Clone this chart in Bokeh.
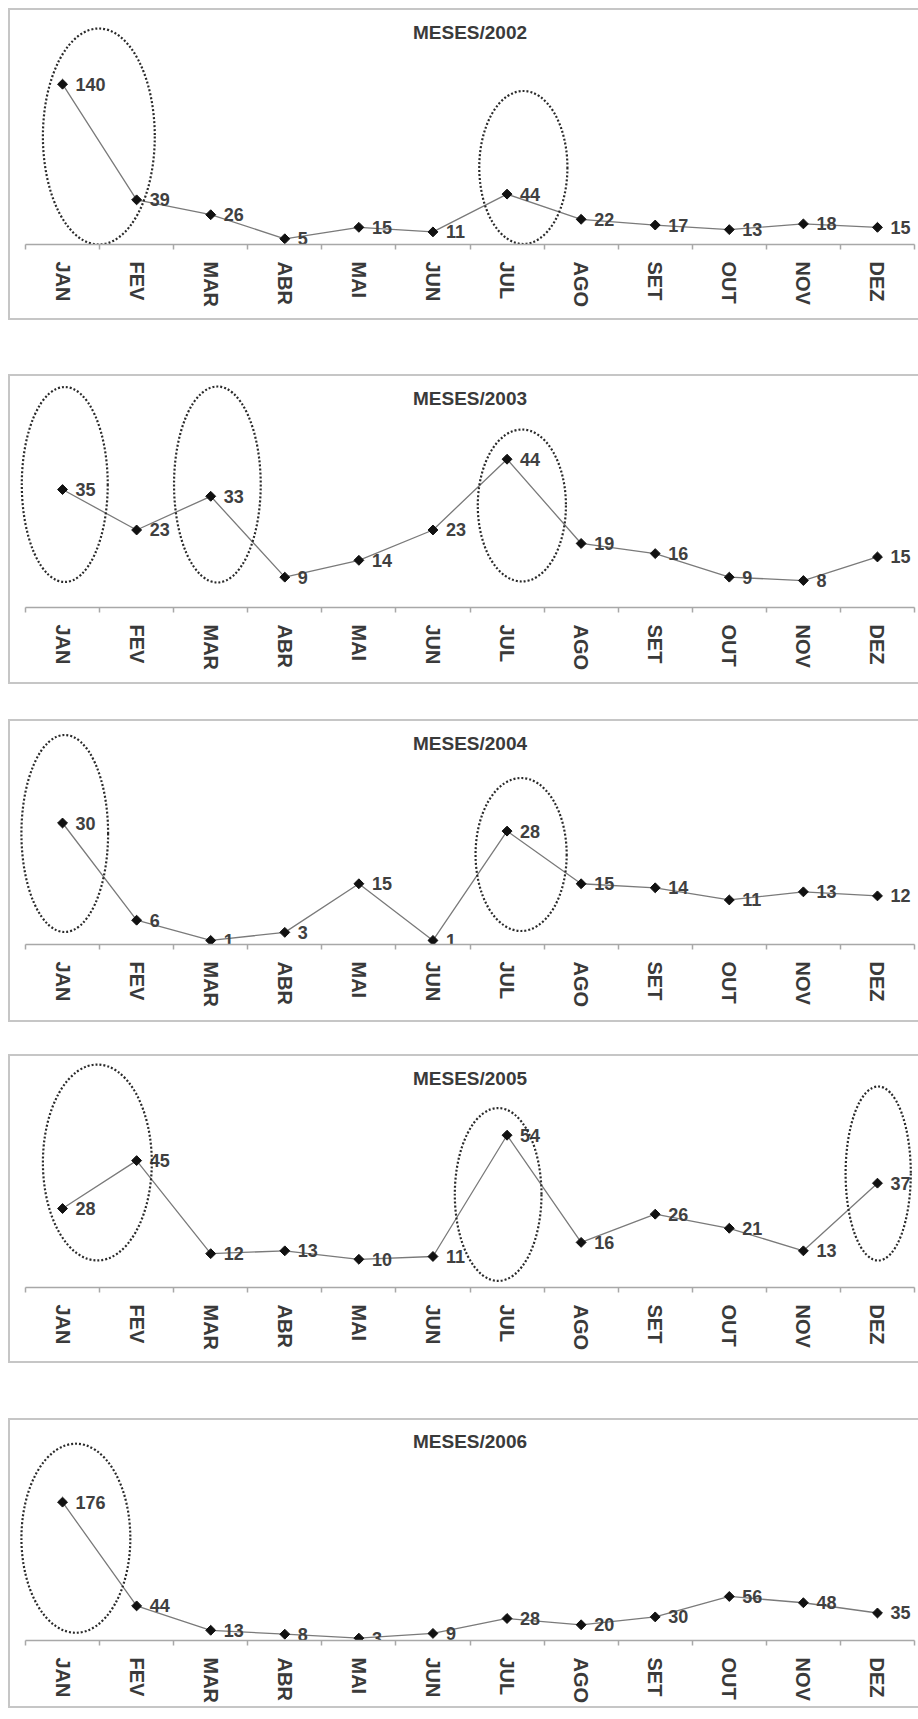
from bokeh.plotting import figure
from bokeh.models import Range1d, LinearAxis, FixedTicker, ColumnDataSource
from bokeh.layouts import column
from bokeh.embed import file_html
from bokeh.resources import INLINE
from bokeh.core.properties import value

# ---------------- data ----------------
MONTHS = ["JAN", "FEV", "MAR", "ABR", "MAI", "JUN", "JUL", "AGO", "SET", "OUT", "NOV", "DEZ"]
YEARS = ["2002", "2003", "2004", "2005", "2006"]

V2002 = [140, 39, 26, 5, 15, 11, 44, 22, 17, 13, 18, 15]
V2003 = [35, 23, 33, 9, 14, 23, 44, 19, 16, 9, 8, 15]
V2004 = [30, 6, 1, 3, 15, 1, 28, 15, 14, 11, 13, 12]
V2005 = [28, 45, 12, 13, 10, 11, 54, 16, 26, 21, 13, 37]
V2006 = [176, 44, 13, 8, 3, 9, 28, 20, 30, 56, 48, 35]

# months circled with a dotted ellipse in each year
HIGHLIGHT_2002 = ["JAN", "JUL"]
HIGHLIGHT_2003 = ["JAN", "MAR", "JUL"]
HIGHLIGHT_2004 = ["JAN", "JUL"]
HIGHLIGHT_2005 = ["FEV", "JUL", "DEZ"]
HIGHLIGHT_2006 = ["JAN"]

SERIES = [V2002, V2003, V2004, V2005, V2006]
HIGHLIGHTS = [HIGHLIGHT_2002, HIGHLIGHT_2003, HIGHLIGHT_2004, HIGHLIGHT_2005, HIGHLIGHT_2006]

# ---------------- layout / style ----------------
FONT_NAME = "Liberation Sans"
FONT = value(FONT_NAME)
BORDER = 2               # panel frame, drawn outside the canvas (box-shadow)
CONTENT_W = 908
PAGE_MARGIN = 8
FRAME_LEFT = 1           # frame reaches left so the ellipses are not cut
AXIS_LEFT = 15           # where the category axis starts inside the canvas
FRAME_RIGHT = 4
TOP_PAD = 2
BC = "#c6c6c6"
PANEL_FRAME = (f"-2px 0 0 0 {BC}, 0 -2px 0 0 {BC}, 0 2px 0 0 {BC}, "
               f"-2px -2px 0 0 {BC}, -2px 2px 0 0 {BC}")

# category slots: month i occupies [i, i+1] on the x scale
N = len(MONTHS)
X_CENTER = [i + 0.5 for i in range(N)]
X_EDGES = list(range(N + 1))
CAT_PX = (CONTENT_W - FRAME_RIGHT - AXIS_LEFT) / N
X_START = -(AXIS_LEFT - FRAME_LEFT) / CAT_PX

# per panel: outer height, gap above, axis position (from outer top), px per unit
PANEL_GEOM = [
    dict(H=312, gap=PAGE_MARGIN, axis=236, s=1.145),
    dict(H=310, gap=54, axis=233, s=3.37),
    dict(H=303, gap=35, axis=225, s=4.05),
    dict(H=309, gap=32, axis=233, s=2.82),
    dict(H=290, gap=55, axis=230, s=0.815),
]

# ellipse shapes (offset from the highlighted month centre in categories,
# width in categories, centre / height in px above the axis)
ELLIPSE_SHAPES = [
    [(0.49, 1.51, 108, 216), (0.22, 1.19, 77, 153)],
    [(0.03, 1.16, 123, 195), (0.09, 1.17, 123, 196), (0.20, 1.19, 102, 152)],
    [(0.03, 1.17, 111, 197), (0.19, 1.23, 90, 153)],
    [(-0.53, 1.47, 125, 196), (-0.12, 1.17, 93, 173), (0.01, 0.88, 114, 174)],
    [(0.18, 1.47, 106, 196)],
]

figs = []
for k, (year, vals, hl, geom, shapes) in enumerate(
        zip(YEARS, SERIES, HIGHLIGHTS, PANEL_GEOM, ELLIPSE_SHAPES)):
    H, A, s = geom["H"], geom["axis"], geom["s"]
    content_h = H - 2 * BORDER
    frame_top = BORDER + TOP_PAD
    y_end = (A - frame_top) / s
    top_margin = geom["gap"] + BORDER + (BORDER if k > 0 else 0)

    p = figure(width=CONTENT_W, height=content_h,
               x_range=Range1d(X_START, N), y_range=Range1d(0, y_end),
               x_axis_location=None, y_axis_location=None,
               toolbar_location=None, output_backend="svg", title=None,
               min_border_left=FRAME_LEFT, min_border_right=FRAME_RIGHT,
               min_border_top=TOP_PAD, min_border_bottom=H - BORDER - A,
               outline_line_color=None, background_fill_color="white",
               border_fill_color="white",
               margin=(top_margin, 0, 0, PAGE_MARGIN + BORDER),
               styles={"box-shadow": PANEL_FRAME})
    p.xgrid.visible = False
    p.ygrid.visible = False

    # axis: month names at the centres, small ticks at the category boundaries
    axis = LinearAxis(ticker=FixedTicker(ticks=X_CENTER, minor_ticks=X_EDGES),
                      bounds=(0, N),
                      major_label_overrides={x: m for x, m in zip(X_CENTER, MONTHS)},
                      axis_line_color="#a8a8a8", axis_line_width=1.5,
                      major_tick_line_color=None, major_tick_out=0, major_tick_in=0,
                      minor_tick_line_color="#a8a8a8", minor_tick_line_width=1.5,
                      minor_tick_out=5, minor_tick_in=0,
                      major_label_orientation="vertical",
                      major_label_standoff=12,
                      major_label_text_font=FONT_NAME,
                      major_label_text_font_style="bold",
                      major_label_text_font_size="20px",
                      major_label_text_color="#3a3a3a")
    p.add_layout(axis, "below")

    src = ColumnDataSource(dict(x=X_CENTER, v=vals, t=[str(v) for v in vals]))
    p.line("x", "v", source=src, line_color="#7a7a7a", line_width=1.3)
    p.scatter("x", "v", source=src, marker="square", angle=0.785398, size=7,
              fill_color="#111111", line_color="#111111")
    p.text("x", "v", text="t", source=src, x_offset=13, text_align="left",
           text_baseline="middle", text_font=FONT, text_font_style="bold",
           text_font_size="18px", text_color="#404040")

    # title
    p.text(x=[N / 2], y=[y_end - 20 / s], text=["MESES/" + year],
           text_align="center", text_baseline="middle", text_font=FONT,
           text_font_style="bold", text_font_size="19px", text_color="#3a3a3a")

    # dotted ellipses around highlighted months
    ex, ey, ew, eh = [], [], [], []
    for m, (dx, w, cy, h) in zip(hl, shapes):
        ex.append(X_CENTER[MONTHS.index(m)] + dx)
        ey.append(cy / s)
        ew.append(w)
        eh.append(h / s)
    p.ellipse(x=ex, y=ey, width=ew, height=eh, fill_color=None,
              line_color="#2a2a2a", line_width=2.2, line_dash="2 2")
    figs.append(p)

layout = column(*figs, spacing=0)
open("out.html", "w").write(file_html(layout, INLINE))
